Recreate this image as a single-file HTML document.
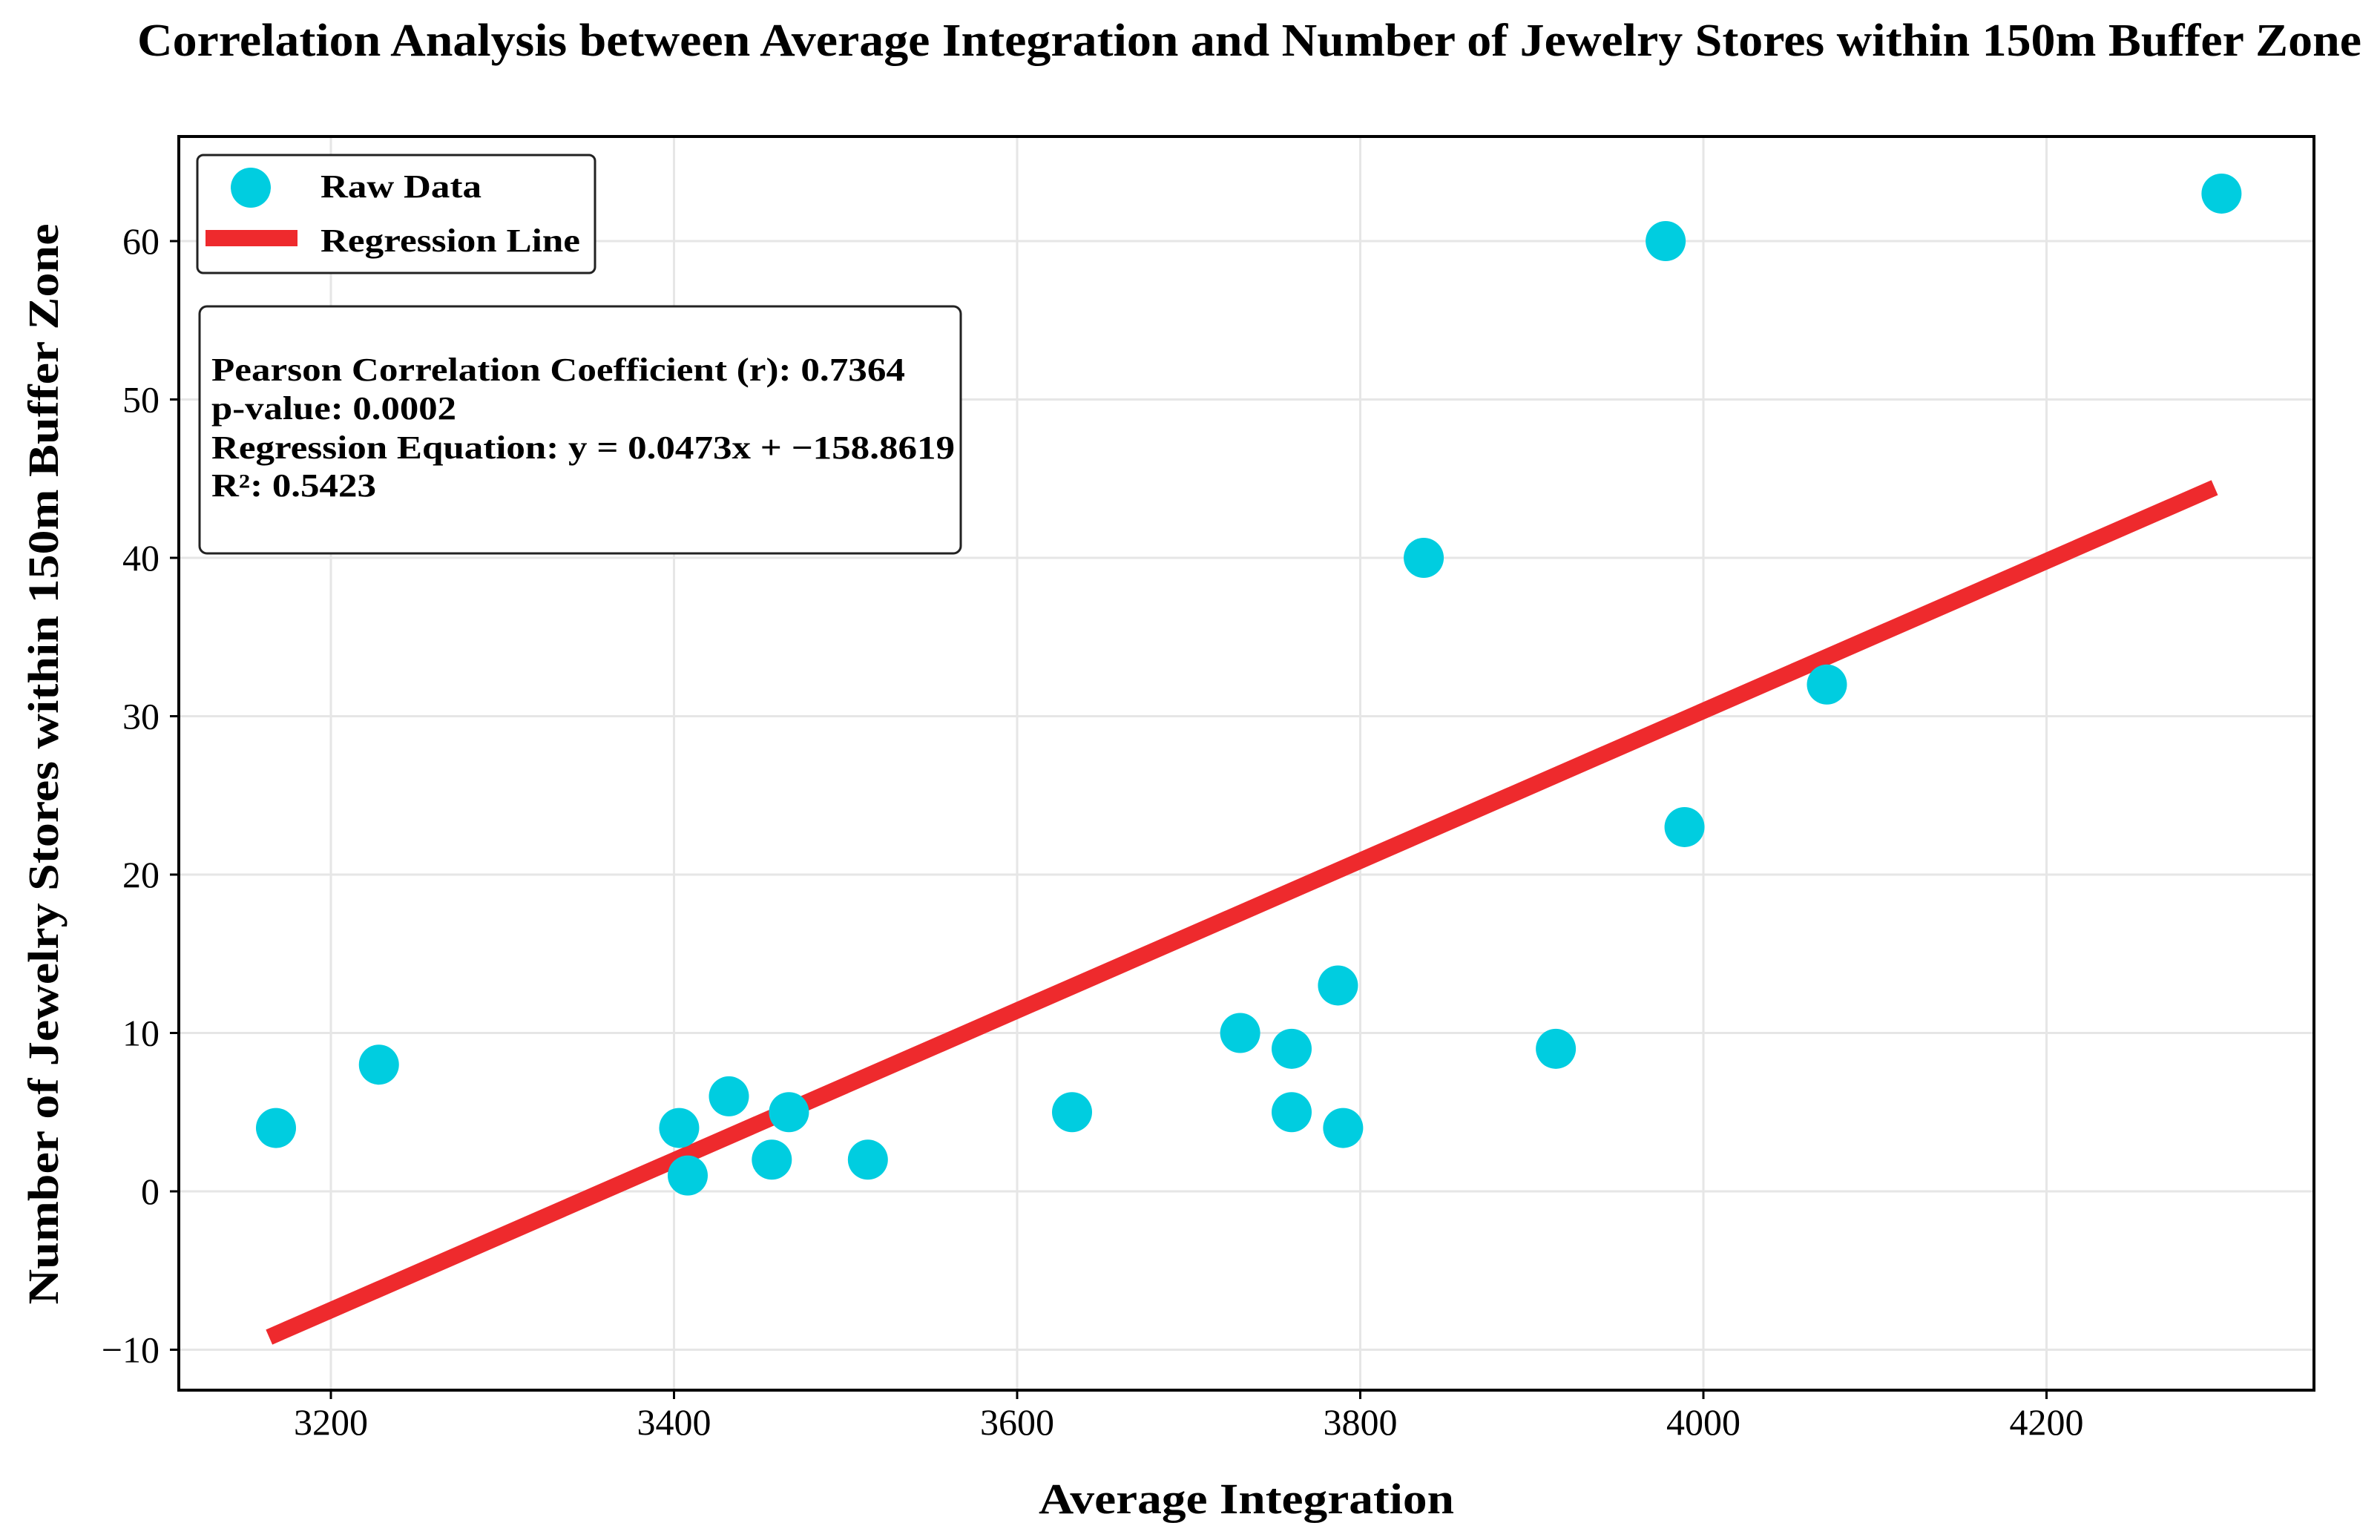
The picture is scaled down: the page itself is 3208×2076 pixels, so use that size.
<!DOCTYPE html>
<html><head><meta charset="utf-8"><style>
html,body{margin:0;padding:0;background:#fff;}
svg{display:block;font-family:"Liberation Serif",serif;}
</style></head><body>
<svg id="chart" width="3208" height="2076" viewBox="0 0 3208 2076" xmlns="http://www.w3.org/2000/svg">
<rect width="3208" height="2076" fill="#fff"/>
<text x="185" y="75" font-size="62" font-weight="bold" textLength="2998" lengthAdjust="spacingAndGlyphs">Correlation Analysis between Average Integration and Number of Jewelry Stores within 150m Buffer Zone</text>
<g id="grid"></g>
<g id="marks"></g>
<rect x="241" y="184" width="2878" height="1690" fill="none" stroke="#000" stroke-width="4"/>
<g id="ticks"></g>
<text x="1680" y="2040" font-size="58" font-weight="bold" text-anchor="middle" textLength="560" lengthAdjust="spacingAndGlyphs">Average Integration</text>
<text transform="translate(78,1030) rotate(-90)" font-size="58" font-weight="bold" text-anchor="middle" textLength="1457" lengthAdjust="spacingAndGlyphs">Number of Jewelry Stores within 150m Buffer Zone</text>
<g>
<rect x="266" y="209" width="536" height="159" rx="8" fill="#fff" stroke="#222" stroke-width="3"/>
<circle cx="338" cy="253" r="27" fill="#00cde0"/>
<text x="432" y="266" font-size="44" font-weight="bold" textLength="217" lengthAdjust="spacingAndGlyphs">Raw Data</text>
<rect x="277" y="310" width="124" height="22" fill="#ee2a2d"/>
<text x="432" y="339" font-size="44" font-weight="bold" textLength="350" lengthAdjust="spacingAndGlyphs">Regression Line</text>
</g>
<g>
<rect x="269" y="413" width="1026" height="333" rx="10" fill="#fff" stroke="#222" stroke-width="3"/>
<text x="285" y="513" font-size="44" font-weight="bold" textLength="935" lengthAdjust="spacingAndGlyphs">Pearson Correlation Coefficient (r): 0.7364</text>
<text x="285" y="565" font-size="44" font-weight="bold" textLength="330" lengthAdjust="spacingAndGlyphs">p-value: 0.0002</text>
<text x="285" y="618" font-size="44" font-weight="bold" textLength="1002" lengthAdjust="spacingAndGlyphs">Regression Equation: y = 0.0473x + −158.8619</text>
<text x="285" y="669" font-size="44" font-weight="bold" textLength="222" lengthAdjust="spacingAndGlyphs">R²: 0.5423</text>
</g>
</svg>
<script>
const xValues = [3168,3228,3403,3408,3432,3457,3467,3513,3632,3730,3760,3760,3787,3790,3837,3914,3978,3989,4072,4302];
const yValues = [4,8,4,1,6,2,5,2,5,10,9,5,13,4,40,9,60,23,32,63];
const xTicks = [3200,3400,3600,3800,4000,4200];
const yTicks = [-10,0,10,20,30,40,50,60];
const slope = 0.0473;
const intercept = -158.8619;

const NS = "http://www.w3.org/2000/svg";
function sx(v){ return 446 + (v - 3200) * 2.3125; }
function sy(v){ return 1606 - v * 21.35; }
function mk(tag, attrs, parent){
  const e = document.createElementNS(NS, tag);
  for (const k in attrs) e.setAttribute(k, attrs[k]);
  parent.appendChild(e);
  return e;
}
const grid = document.getElementById('grid');
const ticks = document.getElementById('ticks');
const marks = document.getElementById('marks');

xTicks.forEach(v => {
  const g = mk('line', {x1:sx(v), x2:sx(v), y1:184, y2:1874, stroke:'#e6e6e6', 'stroke-width':3}, grid);
  
  
  const t = mk('line', {x1:sx(v), x2:sx(v), y1:1874, y2:1886, stroke:'#000', 'stroke-width':3}, ticks);
  
  
  const l = mk('text', {x:sx(v), y:1934, 'font-size':50, 'text-anchor':'middle'}, ticks);
  l.textContent = v;
  
  
});
yTicks.forEach(v => {
  const g = mk('line', {x1:241, x2:3119, y1:sy(v), y2:sy(v), stroke:'#e6e6e6', 'stroke-width':3}, grid);
  
  
  const t = mk('line', {x1:229, x2:241, y1:sy(v), y2:sy(v), stroke:'#000', 'stroke-width':3}, ticks);
  
  
  const l = mk('text', {x:215, y:sy(v)+17, 'font-size':50, 'text-anchor':'end'}, ticks);
  l.textContent = v < 0 ? '\u2212' + Math.abs(v) : v;
  
  
});

const xmin = Math.min.apply(null, xValues) - 4, xmax = Math.max.apply(null, xValues) - 4;
const reg = mk('line', {x1:sx(xmin), y1:sy(slope*xmin+intercept), x2:sx(xmax), y2:sy(slope*xmax+intercept), stroke:'#ee2a2d', 'stroke-width':22}, marks);



xValues.forEach((x, i) => {
  const c = mk('circle', {cx:sx(x), cy:sy(yValues[i]), r:27, fill:'#00cde0'}, marks);
  
  
});
</script>
</body></html>
